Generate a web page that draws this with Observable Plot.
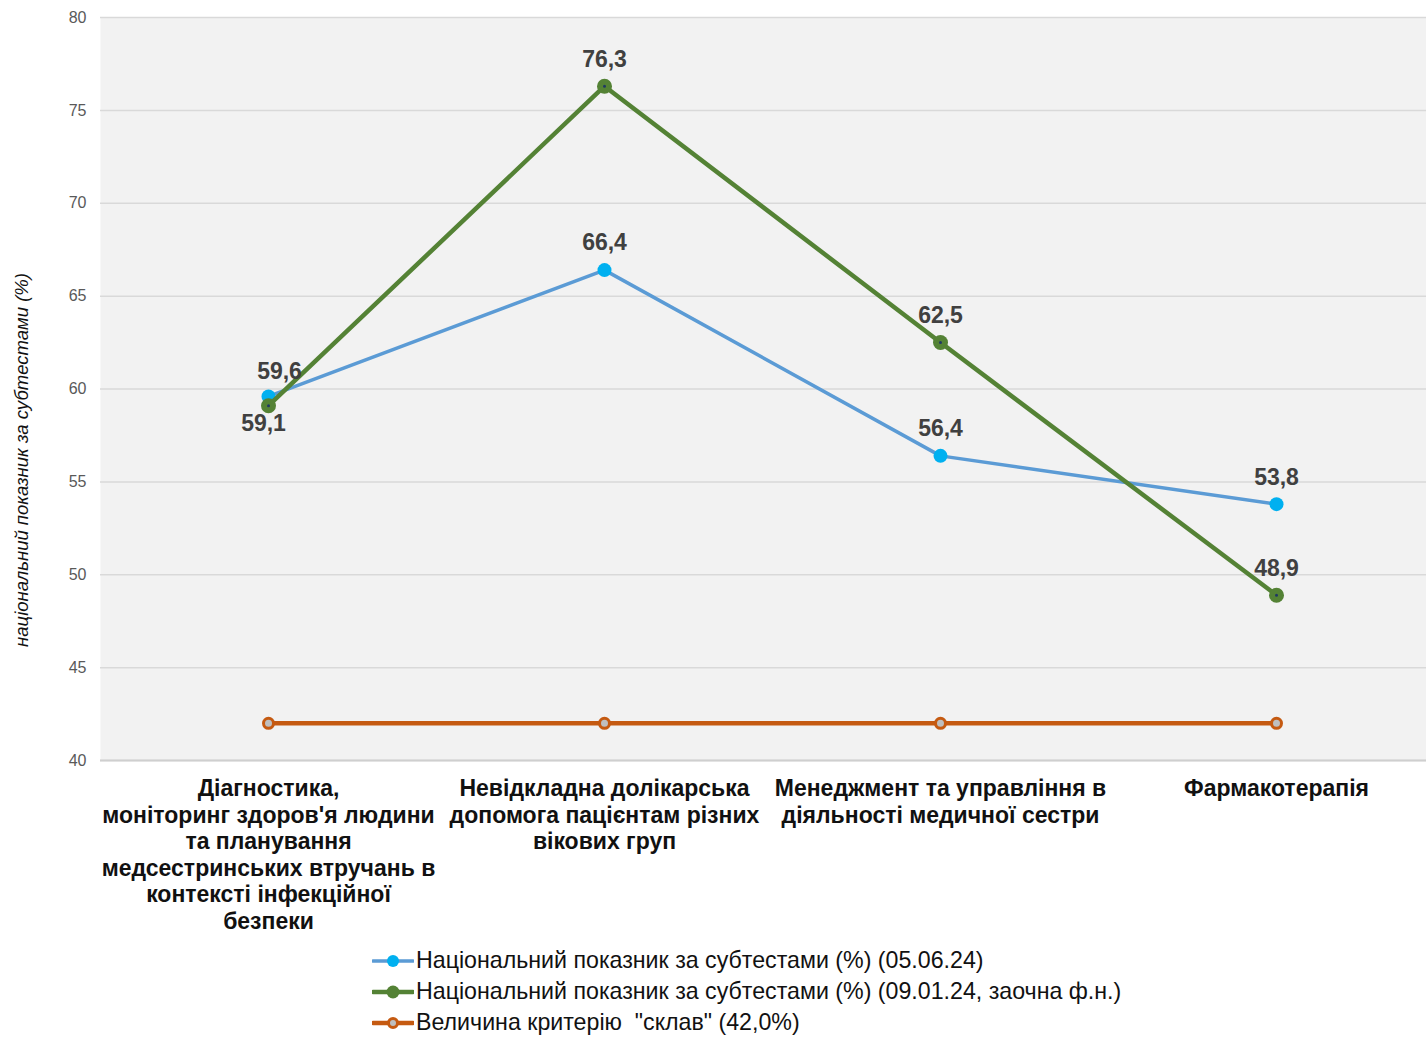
<!DOCTYPE html>
<html><head><meta charset="utf-8">
<script src="https://cdn.jsdelivr.net/npm/d3@7"></script>
<script src="https://cdn.jsdelivr.net/npm/@observablehq/plot@0.6"></script>
<style>
body{margin:0;background:#fff;font-family:"Liberation Sans",Arial,sans-serif;position:relative;}
#legend{padding-left:372px;margin-top:0px;}
.row{display:flex;align-items:center;height:31px;font-size:23.2px;color:#111;white-space:pre;}
.row svg{margin-right:2px;}
#ytitle{position:absolute;left:22px;top:460px;transform:translate(-50%,-50%) rotate(-90deg);
  font-size:18.5px;font-style:italic;color:#111;white-space:nowrap;}
</style>
</head><body>
<div id="chart"></div>
<div id="legend"></div>
<div id="ytitle"></div>
<script>
const categories = [
  "Діагностика, моніторинг здоров'я людини та планування медсестринських втручань в контексті інфекційної безпеки",
  "Невідкладна долікарська допомога пацієнтам різних вікових груп",
  "Менеджмент та управління в діяльності медичної сестри",
  "Фармакотерапія"
];
const tickLabels = [
  "Діагностика,\nмоніторинг здоров'я людини\nта планування\nмедсестринських втручань в\nконтексті інфекційної\nбезпеки",
  "Невідкладна долікарська\nдопомога пацієнтам різних\nвікових груп",
  "Менеджмент та управління в\nдіяльності медичної сестри",
  "Фармакотерапія"
];
const seriesNames = [
  "Національний показник за субтестами (%) (05.06.24)",
  "Національний показник за субтестами (%) (09.01.24, заочна ф.н.)",
  "Величина критерію  \"склав\" (42,0%)"
];
const june = [59.6, 66.4, 56.4, 53.8];
const january = [59.1, 76.3, 62.5, 48.9];
const criterion = [42.0, 42.0, 42.0, 42.0];
const yTicks = [40, 45, 50, 55, 60, 65, 70, 75, 80];
const yTitle = "національний показник за субтестами (%)";

const colors = {june: "#5b9bd5", juneDot: "#00b0f0", jan: "#548235", crit: "#c55a11"};
const labelMap = new Map(categories.map((c, i) => [c, tickLabels[i]]));
const fmt = v => v.toFixed(1).replace(".", ",");
const rows = arr => categories.map((c, i) => ({cat: c, v: arr[i], i}));
const juneRows = rows(june), janRows = rows(january), critRows = rows(criterion);
const lblStyle = {fontSize: 23, fontWeight: "bold", fill: "#404040"};

const chart = Plot.plot({
  width: 1426,
  height: 945,
  marginLeft: 100,
  marginRight: 0,
  marginTop: 17,
  marginBottom: 185,
  style: {fontFamily: "'Liberation Sans', Arial, sans-serif", background: "#fff"},
  x: {type: "point", domain: categories, range: [100, 1444], padding: 0.5},
  y: {domain: [40, 80], range: [760, 17]},
  marks: [
    Plot.frame({fill: "#f2f2f2", stroke: null}),
    Plot.gridY(yTicks, {stroke: "#d9d9d9", strokeOpacity: 1, strokeWidth: 1.5}),
    Plot.ruleY([40], {stroke: "#cfcfcf", strokeWidth: 2}),
    Plot.axisY(yTicks, {tickSize: 0, tickPadding: 14, fontSize: 16, fill: "#595959", label: null}),
    Plot.axisX({tickSize: 0, tickPadding: 17, fontSize: 23, fontWeight: "bold", fill: "#111",
      lineHeight: 1.152, tickFormat: d => labelMap.get(d), label: null}),
    Plot.line(critRows, {x: "cat", y: "v", stroke: colors.crit, strokeWidth: 4.5}),
    Plot.dot(critRows, {x: "cat", y: "v", r: 5, fill: "#bfbfbf", stroke: colors.crit, strokeWidth: 3}),
    Plot.line(juneRows, {x: "cat", y: "v", stroke: colors.june, strokeWidth: 3.5}),
    Plot.dot(juneRows, {x: "cat", y: "v", r: 7, fill: colors.juneDot, stroke: null}),
    Plot.line(janRows, {x: "cat", y: "v", stroke: colors.jan, strokeWidth: 4.5}),
    Plot.dot(janRows, {x: "cat", y: "v", r: 7.5, fill: colors.jan, stroke: null}),
    Plot.dot(janRows, {x: "cat", y: "v", r: 1.5, fill: "#203864", stroke: null}),
    Plot.text(juneRows.filter(d => d.i > 0), {x: "cat", y: "v", text: d => fmt(d.v), dy: -27, ...lblStyle}),
    Plot.text(juneRows.filter(d => d.i === 0), {x: "cat", y: "v", text: d => fmt(d.v), dy: -25, dx: 11, ...lblStyle}),
    Plot.text(janRows.filter(d => d.i > 0), {x: "cat", y: "v", text: d => fmt(d.v), dy: -27, ...lblStyle}),
    Plot.text(janRows.filter(d => d.i === 0), {x: "cat", y: "v", text: d => fmt(d.v), dy: 18, dx: -5, ...lblStyle})
  ]
});
document.getElementById("chart").appendChild(chart);
document.getElementById("ytitle").textContent = yTitle;

const legendItems = [
  {name: seriesNames[0], line: colors.june, dot: colors.juneDot, w: 3.5, r: 6, sw: 0, df: colors.juneDot},
  {name: seriesNames[1], line: colors.jan, dot: colors.jan, w: 4.5, r: 6.5, sw: 0, df: colors.jan},
  {name: seriesNames[2], line: colors.crit, dot: colors.crit, w: 4.5, r: 4.5, sw: 3, df: "#bfbfbf"}
];
const legend = document.getElementById("legend");
for (const it of legendItems) {
  const row = document.createElement("div");
  row.className = "row";
  row.innerHTML = `<svg width="42" height="20"><line x1="1" y1="10" x2="41" y2="10" stroke="${it.line}" stroke-width="${it.w}" stroke-linecap="round"/><circle cx="21" cy="10" r="${it.r}" fill="${it.df}" stroke="${it.sw ? it.dot : 'none'}" stroke-width="${it.sw}"/></svg><span></span>`;
  row.querySelector("span").textContent = it.name;
  legend.appendChild(row);
}
</script>
</body></html>
